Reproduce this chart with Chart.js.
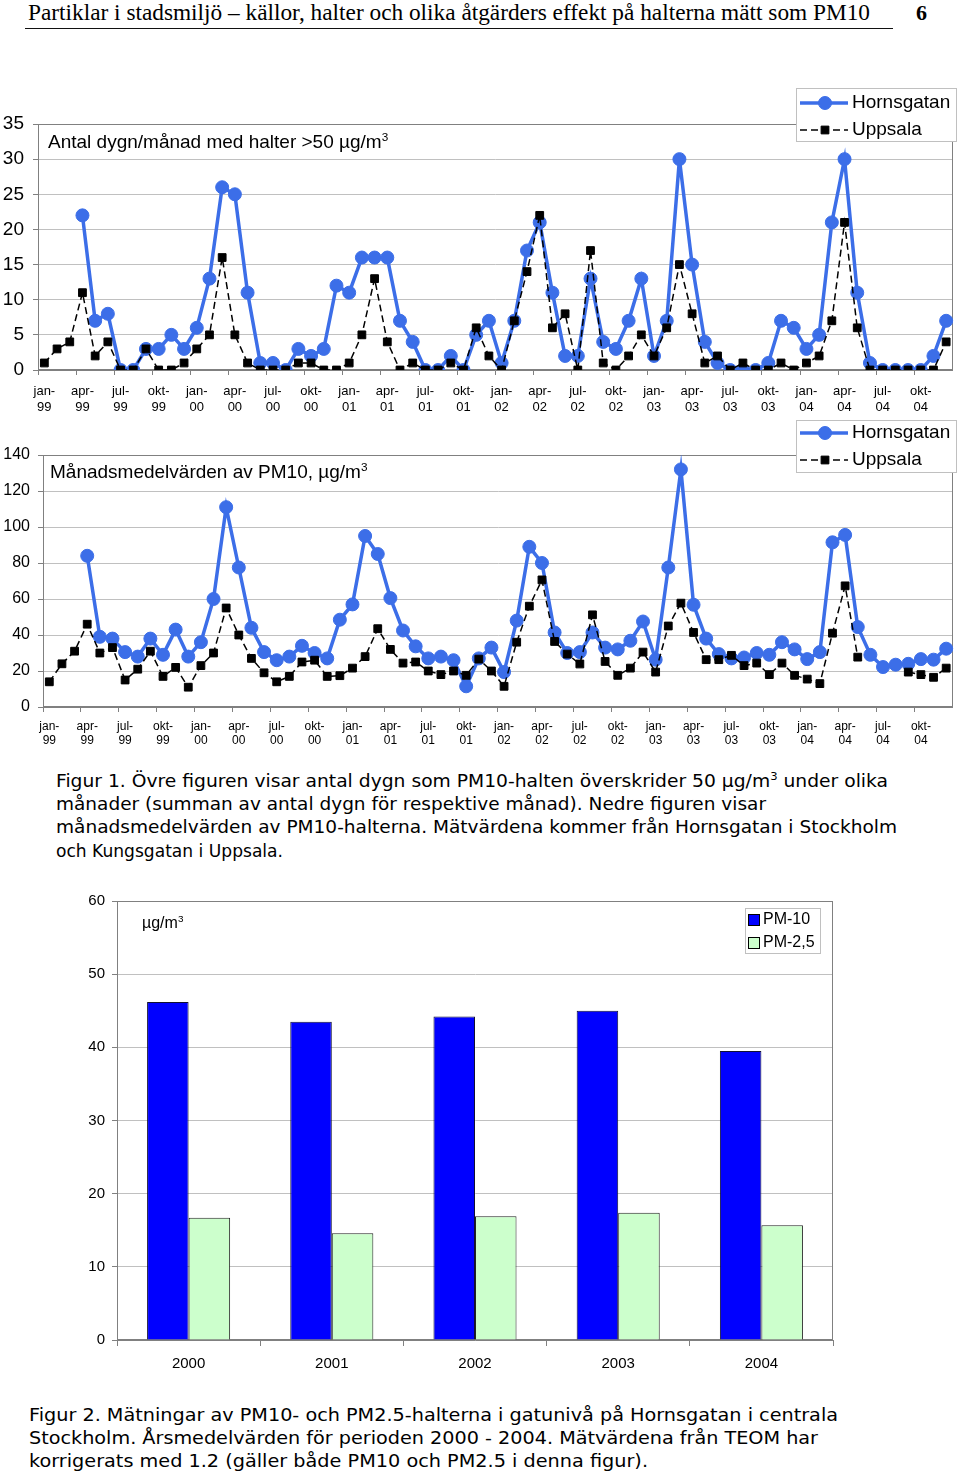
<!DOCTYPE html>
<html lang="sv">
<head>
<meta charset="utf-8">
<title>PM10 Hornsgatan och Uppsala</title>
<script src="https://cdn.jsdelivr.net/npm/chart.js@4.4.0/dist/chart.umd.min.js"></script>
<style>
  body { margin: 0; width: 960px; height: 1476px; position: relative; background: #fff; overflow: hidden;
         font-family: 'Liberation Sans', Arial, sans-serif; color: #000; }
  canvas { position: absolute; left: 0; }
  .fit { position: absolute; white-space: nowrap; transform-origin: 0 50%; }
  .head { font-family: 'Liberation Serif', 'Times New Roman', serif; font-size: 23px; line-height: 26px; top: 0; }
  .cap { font-family: 'DejaVu Sans', Verdana, sans-serif; font-size: 18px; line-height: 23px; }
  .rule { position: absolute; left: 25px; top: 28px; width: 868px; height: 1px; background: #111; }
  .page { position: absolute; left: 916px; top: 0; line-height: 26px; font: bold 22px 'Liberation Serif', serif; }
  .ttl { position: absolute; white-space: nowrap; font-size: 19px; line-height: 22px; }
  sup { font-size: 0.62em; line-height: 0; vertical-align: 0.62em; }
</style>
</head>
<body>
<div class="fit head" style="left:28px" data-w="842">Partiklar i stadsmiljö – källor, halter och olika åtgärders effekt på halterna mätt som PM10</div>
<div class="rule"></div>
<div class="page">6</div>

<canvas id="daysChart" width="960" height="340" style="top:80px"></canvas>
<canvas id="meanChart" width="960" height="340" style="top:415px"></canvas>
<canvas id="yearChart" width="960" height="510" style="top:880px"></canvas>

<div class="ttl" style="left:48px; top:131px">Antal dygn/månad med halter &gt;50 µg/m<sup>3</sup></div>
<div class="ttl" style="left:50px; top:461px">Månadsmedelvärden av PM10, µg/m<sup>3</sup></div>
<div class="ttl" style="left:142px; top:912px; font-size:16px">µg/m<sup>3</sup></div>

<div class="fit cap" style="left:56px; top:769px" data-w="832">Figur 1. Övre figuren visar antal dygn som PM10-halten överskrider 50 µg/m<sup>3</sup> under olika</div>
<div class="fit cap" style="left:56px; top:792px" data-w="710">månader (summan av antal dygn för respektive månad). Nedre figuren visar</div>
<div class="fit cap" style="left:56px; top:815px" data-w="841">månadsmedelvärden av PM10-halterna. Mätvärdena kommer från Hornsgatan i Stockholm</div>
<div class="fit cap" style="left:56px; top:839px" data-w="227">och Kungsgatan i Uppsala.</div>

<div class="fit cap" style="left:29px; top:1403px" data-w="809">Figur 2. Mätningar av PM10- och PM2.5-halterna i gatunivå på Hornsgatan i centrala</div>
<div class="fit cap" style="left:29px; top:1426px" data-w="789">Stockholm. Årsmedelvärden för perioden 2000 - 2004. Mätvärdena från TEOM har</div>
<div class="fit cap" style="left:29px; top:1449px" data-w="619">korrigerats med 1.2 (gäller både PM10 och PM2.5 i denna figur).</div>

<script>
// Data
const months = ['jan', 'feb', 'mar', 'apr', 'maj', 'jun', 'jul', 'aug', 'sep', 'okt', 'nov', 'dec'];
const years = ['99', '00', '01', '02', '03', '04'];
const monthLabels = years.flatMap(y => months.map(m => m + '-' + y));

// antal dygn/månad > 50 µg/m3
const hornsDays = [null, null, null, 22, 7, 8, 0, 0, 3, 3, 5, 3,
  6, 13, 26, 25, 11, 1, 1, 0, 3, 2, 3, 12,
  11, 16, 16, 16, 7, 4, 0, 0, 2, 0, 5, 7,
  1, 7, 17, 21, 11, 2, 2, 13, 4, 3, 7, 13,
  2, 7, 30, 15, 4, 1, 0, 0, 0, 1, 7, 6,
  3, 5, 21, 30, 11, 1, 0, 0, 0, 0, 2, 7];
const uppsalaDays = [1, 3, 4, 11, 2, 4, 0, 0, 3, 0, 0, 1,
  3, 5, 16, 5, 1, 0, 0, 0, 1, 1, 0, 0,
  1, 5, 13, 4, 0, 1, 0, 0, 1, 0, 6, 2,
  0, 7, 14, 22, 6, 8, 0, 17, 1, 0, 2, 5,
  2, 6, 15, 8, 1, 2, 0, 1, 0, 0, 1, 0,
  1, 2, 7, 21, 6, 0, 0, 0, 0, 0, 0, 4];

// månadsmedelvärden PM10, µg/m3
const hornsMean = [null, null, null, 84, 39, 38, 30.5, 28, 38, 29, 43, 28,
  36, 60, 111, 77.5, 44, 30.5, 26, 28, 34, 30, 27, 48.5,
  57, 95, 85, 60.5, 42.5, 33.7, 27, 28, 26, 11.5, 27, 33,
  19.4, 48, 89, 80, 41.4, 30, 30.5, 41.4, 33, 32, 36.8, 47.5,
  26.3, 77.5, 132, 56.8, 38, 29.4, 27, 27.5, 30, 29, 36, 32,
  26.6, 30.5, 91.5, 95.6, 44.4, 29, 22.2, 23.5, 24, 26.6, 26.3, 32.4];
const uppsalaMean = [14, 24, 31, 46, 30, 33, 15, 21, 31, 17, 22, 11,
  23, 30, 55, 40, 27, 19, 14, 17, 25, 26, 17, 17.4,
  21.6, 28, 43.5, 32, 24.4, 25, 20, 18, 20, 17.6, 26.6, 20,
  11.5, 36, 56, 70.6, 36.4, 29.4, 23.9, 51.2, 25.3, 17.6, 21.6, 30.5,
  19.4, 45, 57.7, 41.4, 26.3, 26.3, 28.7, 23, 24.4, 18, 24.4, 17.6,
  15.5, 13, 41, 67.3, 27.7, null, null, null, 19.4, 18, 16.5, 21.6];

// årsmedelvärden Hornsgatan
const barYears = ['2000', '2001', '2002', '2003', '2004'];
const pm10 = [46.2, 43.5, 44.2, 45.0, 39.5];
const pm25 = [16.7, 14.6, 16.9, 17.4, 15.7];

// Styles
const BLUE = '#3c6ee8';
const AXIS = '#808080';
const GRID = '#c0c0c0';

Chart.defaults.font.family = "'Liberation Sans', Arial, sans-serif";
Chart.defaults.color = '#000';
Chart.defaults.animation = false;

// gray border round the plot area
const framePlugin = {
  id: 'frame',
  beforeDatasetsDraw(chart) {
    const { ctx, chartArea: a } = chart;
    ctx.save();
    ctx.strokeStyle = AXIS;
    ctx.lineWidth = 1;
    ctx.strokeRect(Math.round(a.left) + 0.5, Math.round(a.top) + 0.5,
      Math.round(a.width) - 1, Math.round(a.height) - 1);
    ctx.restore();
  }
};

// Excel-like legend box, drawn from the dataset styles
const boxLegend = {
  id: 'boxLegend',
  afterDraw(chart, args, opts) {
    const { ctx } = chart;
    const b = opts.box;
    ctx.save();
    ctx.fillStyle = '#fff';
    ctx.fillRect(b.x, b.y, b.w, b.h);
    ctx.strokeStyle = GRID;
    ctx.lineWidth = 1;
    ctx.strokeRect(b.x + 0.5, b.y + 0.5, b.w - 1, b.h - 1);
    ctx.font = opts.font;
    ctx.textBaseline = 'middle';
    chart.data.datasets.forEach((ds, i) => {
      const y = opts.rows[i];
      if (opts.kind === 'line') {
        ctx.strokeStyle = ds.borderColor;
        ctx.lineWidth = ds.borderWidth;
        ctx.setLineDash(ds.borderDash || []);
        ctx.beginPath();
        ctx.moveTo(b.x + 4, y);
        ctx.lineTo(b.x + 52, y);
        ctx.stroke();
        ctx.setLineDash([]);
        ctx.fillStyle = ds.pointBackgroundColor;
        ctx.strokeStyle = ds.pointBorderColor;
        ctx.lineWidth = 1;
        Chart.helpers.drawPoint(ctx, { pointStyle: ds.pointStyle, radius: ds.pointRadius, rotation: 0, borderWidth: 1 }, b.x + 29, y);
        ctx.fillStyle = '#000';
        ctx.fillText(ds.label, b.x + 56, y);
      } else {
        ctx.fillStyle = ds.backgroundColor;
        ctx.fillRect(b.x + 3.5, y - 5.5, 11, 11);
        ctx.strokeStyle = '#000';
        ctx.strokeRect(b.x + 3.5, y - 5.5, 11, 11);
        ctx.fillStyle = '#000';
        ctx.fillText(ds.label, b.x + 18, y);
      }
    });
    ctx.restore();
  }
};

function lineDatasets(hData, uData) {
  return [{
    label: 'Hornsgatan',
    data: hData,
    borderColor: BLUE,
    backgroundColor: BLUE,
    borderWidth: 3.5,
    pointStyle: 'circle',
    pointRadius: 6.5,
    pointBackgroundColor: BLUE,
    pointBorderColor: BLUE,
    pointBorderWidth: 1,
    tension: 0,
    spanGaps: false,
    order: 1
  }, {
    label: 'Uppsala',
    data: uData,
    borderColor: '#000',
    backgroundColor: '#000',
    borderWidth: 1.5,
    borderDash: [7, 4],
    pointStyle: 'rect',
    pointRadius: 5.5,
    pointBackgroundColor: '#000',
    pointBorderColor: '#000',
    pointBorderWidth: 1,
    tension: 0,
    spanGaps: false,
    order: 0
  }];
}

function monthAxis(fontSize, pad, height) {
  return {
    offset: true,
    grid: {
      offset: true,
      drawOnChartArea: false,
      tickLength: 5,
      tickColor: c => (c.index % 3 === 0 ? AXIS : 'rgba(0,0,0,0)')
    },
    border: { color: AXIS },
    ticks: {
      autoSkip: false,
      maxRotation: 0,
      minRotation: 0,
      padding: pad,
      font: { size: fontSize },
      callback: (v, i) => {
        if (i % 3 !== 0) return '';
        const [m, y] = monthLabels[i].split('-');
        return [m + '-', y];
      }
    },
    afterFit: s => { s.height = height; }
  };
}

function valueAxis(max, step, fontSize, pad, width) {
  return {
    min: 0,
    max: max,
    grid: { color: GRID, tickLength: 5, tickColor: AXIS },
    border: { color: AXIS },
    ticks: { stepSize: step, padding: pad, font: { size: fontSize } },
    afterFit: s => { s.width = width; }
  };
}

// Övre figuren: antal dygn
new Chart(document.getElementById('daysChart'), {
  type: 'line',
  data: { labels: monthLabels, datasets: lineDatasets(hornsDays, uppsalaDays) },
  options: {
    responsive: false,
    layout: { padding: { top: 44, right: 5, left: 0, bottom: 0 } },
    scales: {
      x: monthAxis(13, 9, 50),
      y: valueAxis(35, 5, 19, 9, 38)
    },
    plugins: {
      legend: { display: false },
      tooltip: { enabled: false },
      boxLegend: { kind: 'line', box: { x: 796, y: 8, w: 161, h: 54 }, rows: [23, 50], font: "19px 'Liberation Sans', Arial, sans-serif" }
    }
  },
  plugins: [framePlugin, boxLegend]
});

// Nedre figuren: månadsmedelvärden
new Chart(document.getElementById('meanChart'), {
  type: 'line',
  data: { labels: monthLabels, datasets: lineDatasets(hornsMean, uppsalaMean) },
  options: {
    responsive: false,
    layout: { padding: { top: 40, right: 4, left: 0, bottom: 0 } },
    scales: {
      x: monthAxis(12, 7, 48),
      y: valueAxis(140, 20, 16, 8, 43)
    },
    plugins: {
      legend: { display: false },
      tooltip: { enabled: false },
      boxLegend: { kind: 'line', box: { x: 796, y: 5, w: 161, h: 53 }, rows: [18, 45], font: "19px 'Liberation Sans', Arial, sans-serif" }
    }
  },
  plugins: [framePlugin, boxLegend]
});

// Figur 2: årsmedelvärden
new Chart(document.getElementById('yearChart'), {
  type: 'bar',
  data: {
    labels: barYears,
    datasets: [{
      label: 'PM-10',
      data: pm10,
      backgroundColor: '#0000ff',
      borderColor: '#111133',
      borderWidth: 1,
      categoryPercentage: 0.58,
      barPercentage: 1
    }, {
      label: 'PM-2,5',
      data: pm25,
      backgroundColor: '#ccffcc',
      borderColor: '#222',
      borderWidth: 1,
      categoryPercentage: 0.58,
      barPercentage: 1
    }]
  },
  options: {
    responsive: false,
    layout: { padding: { top: 21, right: 127, left: 0, bottom: 0 } },
    scales: {
      x: {
        grid: { drawOnChartArea: false, tickLength: 6, tickColor: AXIS },
        border: { color: AXIS },
        ticks: { padding: 9, font: { size: 15 } },
        afterFit: s => { s.height = 50; }
      },
      y: valueAxis(60, 10, 15, 7, 117)
    },
    plugins: {
      legend: { display: false },
      tooltip: { enabled: false },
      boxLegend: { kind: 'bar', box: { x: 745, y: 28, w: 76, h: 46 }, rows: [40, 63], font: "16px 'Liberation Sans', Arial, sans-serif" }
    }
  },
  plugins: [framePlugin, boxLegend]
});

// squeeze text lines to the widths in the original page
document.querySelectorAll('.fit').forEach(el => {
  const w = el.getBoundingClientRect().width;
  el.style.transform = `scaleX(${el.dataset.w / w})`;
});
</script>
</body>
</html>
